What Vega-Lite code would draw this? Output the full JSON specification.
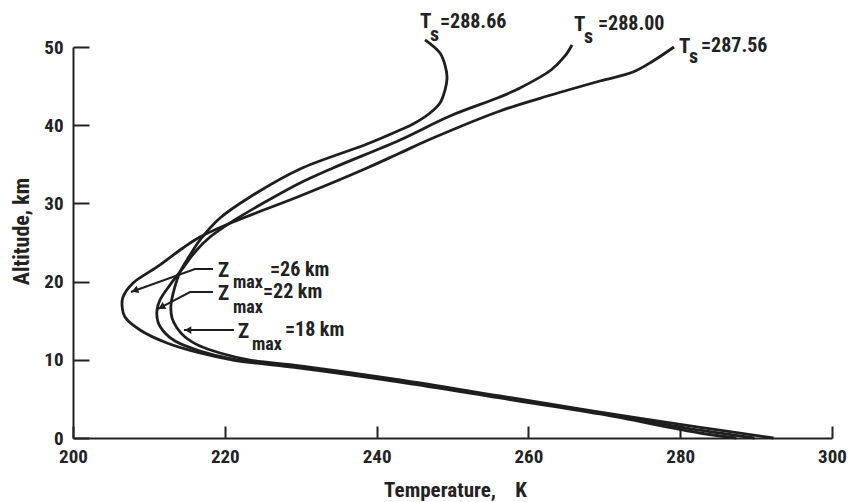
{
  "$schema": "https://vega.github.io/schema/vega-lite/v6.json",
  "width": 759,
  "height": 391,
  "autosize": {"type": "none"},
  "padding": {"left": 73, "top": 47, "right": 19, "bottom": 64},
  "background": "white",
  "config": {
    "view": {"stroke": null},
    "font": "'Roboto Condensed', 'Liberation Sans Narrow', 'DejaVu Sans Condensed', sans-serif",
    "text": {"font": "'Roboto Condensed', 'Liberation Sans Narrow', 'DejaVu Sans Condensed', sans-serif", "fontWeight": "bold", "color": "#222222", "align": "left", "baseline": "alphabetic"}
  },
  "datasets": {
    "curves": [
      {"c":"A","i":0,"T":279.18,"z":50.0},{"c":"A","i":1,"T":276.42,"z":48.21},{"c":"A","i":2,"T":273.78,"z":46.80},{"c":"A","i":3,"T":269.43,"z":45.65},{"c":"A","i":4,"T":262.98,"z":43.86},{"c":"A","i":5,"T":256.26,"z":41.82},{"c":"A","i":6,"T":247.43,"z":38.36},{"c":"A","i":7,"T":243.08,"z":36.45},{"c":"A","i":8,"T":238.74,"z":34.53},{"c":"A","i":9,"T":229.91,"z":30.95},{"c":"A","i":10,"T":221.08,"z":27.62},{"c":"A","i":11,"T":216.73,"z":25.70},{"c":"A","i":12,"T":214.49,"z":24.30},{"c":"A","i":13,"T":211.07,"z":21.87},{"c":"A","i":14,"T":207.91,"z":19.82},{"c":"A","i":15,"T":206.59,"z":18.03},{"c":"A","i":16,"T":206.46,"z":17.01},{"c":"A","i":17,"T":206.85,"z":15.47},{"c":"A","i":18,"T":208.83,"z":13.81},{"c":"A","i":19,"T":212.38,"z":12.15},{"c":"A","i":20,"T":216.73,"z":10.87},{"c":"A","i":21,"T":221.08,"z":9.97},{"c":"A","i":22,"T":229.91,"z":8.95},{"c":"A","i":23,"T":243.08,"z":7.16},{"c":"A","i":24,"T":256.26,"z":5.12},{"c":"A","i":25,"T":269.43,"z":3.07},{"c":"A","i":26,"T":282.61,"z":0.64},{"c":"A","i":27,"T":287.40,"z":0},
      {"c":"B","i":0,"T":265.74,"z":50.26},{"c":"B","i":1,"T":264.82,"z":48.85},{"c":"B","i":2,"T":262.98,"z":47.06},{"c":"B","i":3,"T":258.89,"z":44.76},{"c":"B","i":4,"T":256.26,"z":43.61},{"c":"B","i":5,"T":249.67,"z":41.18},{"c":"B","i":6,"T":243.08,"z":38.11},{"c":"B","i":7,"T":234.26,"z":34.53},{"c":"B","i":8,"T":229.91,"z":32.61},{"c":"B","i":9,"T":225.56,"z":30.31},{"c":"B","i":10,"T":221.08,"z":27.75},{"c":"B","i":11,"T":218.05,"z":25.70},{"c":"B","i":12,"T":216.07,"z":23.79},{"c":"B","i":13,"T":214.49,"z":21.74},{"c":"B","i":14,"T":212.78,"z":19.57},{"c":"B","i":15,"T":211.46,"z":17.65},{"c":"B","i":16,"T":211.07,"z":16.37},{"c":"B","i":17,"T":211.20,"z":14.83},{"c":"B","i":18,"T":212.12,"z":13.43},{"c":"B","i":19,"T":213.44,"z":12.40},{"c":"B","i":20,"T":216.73,"z":11.13},{"c":"B","i":21,"T":221.08,"z":10.10},{"c":"B","i":22,"T":229.91,"z":9.08},{"c":"B","i":23,"T":243.08,"z":7.29},{"c":"B","i":24,"T":256.26,"z":5.24},{"c":"B","i":25,"T":269.43,"z":3.20},{"c":"B","i":26,"T":282.61,"z":1.00},{"c":"B","i":27,"T":289.80,"z":0},
      {"c":"C","i":0,"T":246.38,"z":50.90},{"c":"C","i":1,"T":248.35,"z":49.23},{"c":"C","i":2,"T":249.01,"z":47.70},{"c":"C","i":3,"T":249.28,"z":46.04},{"c":"C","i":4,"T":249.01,"z":44.50},{"c":"C","i":5,"T":248.35,"z":42.84},{"c":"C","i":6,"T":247.04,"z":41.56},{"c":"C","i":7,"T":244.80,"z":40.15},{"c":"C","i":8,"T":243.08,"z":39.39},{"c":"C","i":9,"T":238.74,"z":37.60},{"c":"C","i":10,"T":229.91,"z":34.40},{"c":"C","i":11,"T":223.32,"z":30.82},{"c":"C","i":12,"T":219.37,"z":28.13},{"c":"C","i":13,"T":216.73,"z":25.32},{"c":"C","i":14,"T":215.42,"z":23.40},{"c":"C","i":15,"T":214.10,"z":21.23},{"c":"C","i":16,"T":213.31,"z":18.93},{"c":"C","i":17,"T":212.91,"z":17.01},{"c":"C","i":18,"T":213.04,"z":15.35},{"c":"C","i":19,"T":213.70,"z":14.07},{"c":"C","i":20,"T":214.76,"z":12.92},{"c":"C","i":21,"T":216.73,"z":11.76},{"c":"C","i":22,"T":219.37,"z":10.87},{"c":"C","i":23,"T":223.32,"z":9.97},{"c":"C","i":24,"T":229.91,"z":9.21},{"c":"C","i":25,"T":243.08,"z":7.42},{"c":"C","i":26,"T":256.26,"z":5.37},{"c":"C","i":27,"T":269.43,"z":3.32},{"c":"C","i":28,"T":282.61,"z":1.36},{"c":"C","i":29,"T":292.30,"z":0}
    ],
    "arrows": [
      {"a":"26","i":0,"T":218.45,"z":21.61},{"a":"26","i":1,"T":216.07,"z":21.61},{"a":"26","i":2,"T":207.64,"z":18.67},
      {"a":"22","i":0,"T":218.45,"z":18.67},{"a":"22","i":1,"T":215.42,"z":18.67},{"a":"22","i":2,"T":211.20,"z":16.50},
      {"a":"18","i":0,"T":221.21,"z":13.81},{"a":"18","i":1,"T":214.62,"z":13.81}
    ],
    "heads": [
      {"a":"26","T":208.14,"z":18.85},
      {"a":"22","T":211.66,"z":16.74},
      {"a":"18","T":215.15,"z":13.81}
    ],
    "labels": [
      {"k":"T","T":245.72,"z":52.43,"t":"T"},{"k":"T","T":266.01,"z":52.05,"t":"T"},{"k":"T","T":279.84,"z":49.23,"t":"T"},
      {"k":"s","T":247.04,"z":50.77,"t":"s"},{"k":"s","T":267.33,"z":50.51,"t":"s"},{"k":"s","T":281.16,"z":47.95,"t":"s"},
      {"k":"val","T":248.35,"z":52.43,"t":"=288.66"},{"k":"val","T":269.17,"z":52.17,"t":"=288.00"},{"k":"val","T":282.74,"z":49.36,"t":"=287.56"},
      {"k":"Z","T":219.10,"z":20.59,"t":"Z"},{"k":"Z","T":219.10,"z":17.65,"t":"Z"},{"k":"Z","T":221.74,"z":12.79,"t":"Z"},
      {"k":"max","T":221.08,"z":19.18,"t":"max"},{"k":"max","T":221.08,"z":15.98,"t":"max"},{"k":"max","T":223.58,"z":11.25,"t":"max"},
      {"k":"zv","T":225.96,"z":20.72,"t":"=26 km"},{"k":"zv","T":225.03,"z":17.90,"t":"=22 km"},{"k":"zv","T":227.93,"z":13.04,"t":"=18 km"}
    ]
  },
  "encoding": {
    "x": {
      "field": "T", "type": "quantitative",
      "scale": {"domain": [200, 300], "nice": false, "zero": false},
      "axis": {
        "values": [200, 220, 240, 260, 280, 300],
        "grid": false, "labelFlush": false, "labelOverlap": false,
        "labelFont": "'Roboto Condensed', 'Liberation Sans Narrow', 'DejaVu Sans Condensed', sans-serif",
        "labelFontSize": 19, "labelFontWeight": "bold", "labelColor": "#222222",
        "tickSize": -12, "tickWidth": 2, "tickColor": "#222222",
        "domainWidth": 2, "domainColor": "#222222", "labelPadding": 21,
        "title": "Temperature,\u00a0\u00a0\u00a0\u00a0K",
        "titleFont": "'Roboto Condensed', 'Liberation Sans Narrow', 'DejaVu Sans Condensed', sans-serif",
        "titleFontSize": 21, "titleFontWeight": "bold", "titleColor": "#222222",
        "titleX": 382, "titleY": 58, "titleAlign": "center", "titleBaseline": "alphabetic"
      }
    },
    "y": {
      "field": "z", "type": "quantitative",
      "scale": {"domain": [0, 50], "nice": false, "zero": false},
      "axis": {
        "values": [0, 10, 20, 30, 40, 50],
        "grid": false, "labelFlush": false, "labelOverlap": false,
        "labelFont": "'Roboto Condensed', 'Liberation Sans Narrow', 'DejaVu Sans Condensed', sans-serif",
        "labelFontSize": 19, "labelFontWeight": "bold", "labelColor": "#222222",
        "tickSize": -16, "tickWidth": 2, "tickColor": "#222222",
        "domainWidth": 2, "domainColor": "#222222", "labelPadding": 26,
        "title": "Altitude, km",
        "titleFont": "'Roboto Condensed', 'Liberation Sans Narrow', 'DejaVu Sans Condensed', sans-serif",
        "titleFontSize": 22, "titleFontWeight": "bold", "titleColor": "#222222",
        "titleAngle": -90, "titleX": -45, "titleY": 184, "titleAlign": "center", "titleBaseline": "alphabetic"
      }
    }
  },
  "layer": [
    {
      "data": {"name": "curves"},
      "mark": {"type": "line", "interpolate": "catmull-rom", "strokeWidth": 2.8, "color": "#1e1e1e"},
      "encoding": {"detail": {"field": "c"}, "order": {"field": "i", "type": "quantitative"}}
    },
    {
      "data": {"name": "arrows"},
      "mark": {"type": "line", "strokeWidth": 2, "color": "#1e1e1e"},
      "encoding": {"detail": {"field": "a"}, "order": {"field": "i", "type": "quantitative"}}
    },
    {
      "data": {"name": "heads"},
      "transform": [{"filter": "datum.a === '26'"}],
      "mark": {"type": "point", "shape": "triangle-left", "filled": true, "size": 60, "color": "#1e1e1e", "opacity": 1, "angle": -20}
    },
    {
      "data": {"name": "heads"},
      "transform": [{"filter": "datum.a === '22'"}],
      "mark": {"type": "point", "shape": "triangle-left", "filled": true, "size": 60, "color": "#1e1e1e", "opacity": 1, "angle": -28}
    },
    {
      "data": {"name": "heads"},
      "transform": [{"filter": "datum.a === '18'"}],
      "mark": {"type": "point", "shape": "triangle-left", "filled": true, "size": 60, "color": "#1e1e1e", "opacity": 1}
    },
    {
      "data": {"name": "labels"},
      "transform": [{"filter": "datum.k === 'T'"}],
      "mark": {"type": "text", "fontSize": 21},
      "encoding": {"text": {"field": "t"}}
    },
    {
      "data": {"name": "labels"},
      "transform": [{"filter": "datum.k === 's'"}],
      "mark": {"type": "text", "fontSize": 20},
      "encoding": {"text": {"field": "t"}}
    },
    {
      "data": {"name": "labels"},
      "transform": [{"filter": "datum.k === 'val'"}],
      "mark": {"type": "text", "fontSize": 20},
      "encoding": {"text": {"field": "t"}}
    },
    {
      "data": {"name": "labels"},
      "transform": [{"filter": "datum.k === 'Z'"}],
      "mark": {"type": "text", "fontSize": 21},
      "encoding": {"text": {"field": "t"}}
    },
    {
      "data": {"name": "labels"},
      "transform": [{"filter": "datum.k === 'max'"}],
      "mark": {"type": "text", "fontSize": 18},
      "encoding": {"text": {"field": "t"}}
    },
    {
      "data": {"name": "labels"},
      "transform": [{"filter": "datum.k === 'zv'"}],
      "mark": {"type": "text", "fontSize": 20},
      "encoding": {"text": {"field": "t"}}
    }
  ]
}
